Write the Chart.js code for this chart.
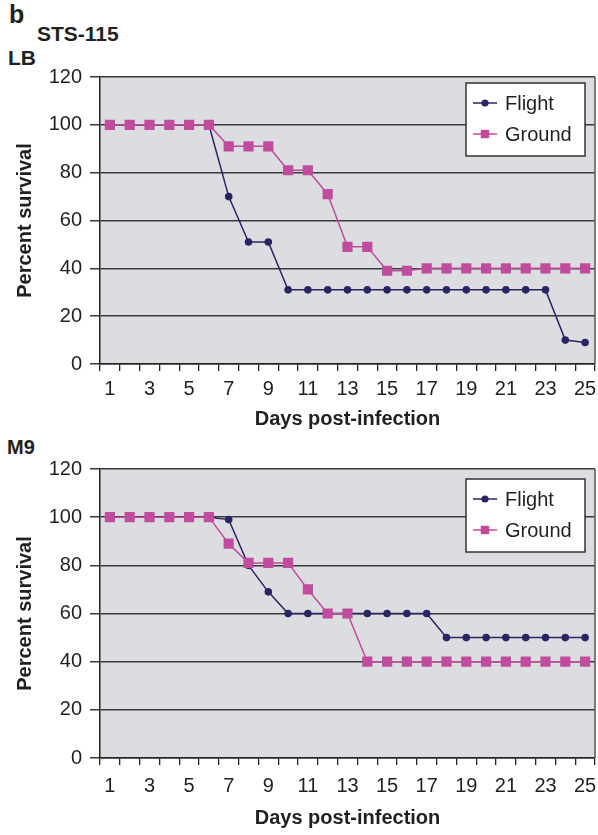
<!DOCTYPE html>
<html>
<head>
<meta charset="utf-8">
<script src="https://cdn.jsdelivr.net/npm/chart.js@4.4.1/dist/chart.umd.min.js"></script>
<style>
  body { margin: 0; background: #fff; font-family: "Liberation Sans", Arial, sans-serif; }
  .page { position: relative; width: 598px; height: 835px; overflow: hidden; }
  .lbl { position: absolute; font-weight: bold; color: #231f20; line-height: 1; }
  .box { position: absolute; left: 0; width: 598px; }
</style>
</head>
<body>
<div class="page">
  <div class="lbl" style="left:9px; top:2px; font-size:25px;">b</div>
  <div class="lbl" style="left:37px; top:23px; font-size:21px;">STS-115</div>
  <div class="lbl" style="left:8px; top:47px; font-size:21px;">LB</div>
  <div class="lbl" style="left:7px; top:437px; font-size:20px;">M9</div>
  <div class="box" style="top:62px; height:372px;"><canvas id="lbChart"></canvas></div>
  <div class="box" style="top:440px; height:395px;"><canvas id="m9Chart"></canvas></div>
</div>
<script>
// Days post-infection
const days = [1, 2, 3, 4, 5, 6, 7, 8, 9, 10, 11, 12, 13, 14, 15, 16, 17, 18, 19, 20, 21, 22, 23, 24, 25];
const yTicks = [0, 20, 40, 60, 80, 100, 120];

// LB medium (percent survival)
const lbFlight = [100, 100, 100, 100, 100, 100, 70, 51, 51, 31, 31, 31, 31, 31, 31, 31, 31, 31, 31, 31, 31, 31, 31, 10, 9];
const lbGround = [100, 100, 100, 100, 100, 100, 91, 91, 91, 81, 81, 71, 49, 49, 39, 39, 40, 40, 40, 40, 40, 40, 40, 40, 40];

// M9 medium (percent survival)
const m9Flight = [100, 100, 100, 100, 100, 100, 99, 80, 69, 60, 60, 60, 60, 60, 60, 60, 60, 50, 50, 50, 50, 50, 50, 50, 50];
const m9Ground = [100, 100, 100, 100, 100, 100, 89, 81, 81, 81, 70, 60, 60, 40, 40, 40, 40, 40, 40, 40, 40, 40, 40, 40, 40];

const flightColor = "#2b2463";
const groundColor = "#c04c9e";
const textColor = "#231f20";
const FONT = "'Liberation Sans', Arial, sans-serif";

// gray plot area + right border
const plotBg = {
  id: "plotBg",
  beforeDraw(chart) {
    const { ctx, chartArea: a } = chart;
    ctx.save();
    ctx.fillStyle = "#dcdde0";
    ctx.fillRect(a.left, a.top, a.right - a.left, a.bottom - a.top);
    ctx.restore();
  },
  afterDraw(chart) {
    const { ctx, chartArea: a } = chart;
    ctx.save();
    ctx.strokeStyle = "#555";
    ctx.lineWidth = 1.5;
    ctx.beginPath();
    ctx.moveTo(a.right, a.top);
    ctx.lineTo(a.right, a.bottom);
    ctx.stroke();
    ctx.restore();
  }
};

// legend box inside the plot, top right
const boxLegend = {
  id: "boxLegend",
  afterDraw(chart, args, opts) {
    const { ctx, chartArea: a } = chart;
    const w = 119, h = 73;
    const x = a.right - 10 - w;
    const y = a.top + opts.top;
    ctx.save();
    ctx.fillStyle = "#fff";
    ctx.fillRect(x, y, w, h);
    ctx.strokeStyle = "#333";
    ctx.lineWidth = 1.5;
    ctx.strokeRect(x, y, w, h);
    chart.data.datasets.forEach((ds, i) => {
      const cy = y + 20 + i * 31;
      ctx.strokeStyle = ds.borderColor;
      ctx.lineWidth = 1.5;
      ctx.beginPath();
      ctx.moveTo(x + 7, cy);
      ctx.lineTo(x + 31, cy);
      ctx.stroke();
      ctx.fillStyle = ds.backgroundColor;
      Chart.helpers.drawPoint(ctx, {
        pointStyle: ds.pointStyle,
        radius: ds.pointStyle === "rect" ? 6 : 3.6,
        rotation: 0,
        borderWidth: 0
      }, x + 19, cy);
      ctx.fillStyle = textColor;
      ctx.font = "20px " + FONT;
      ctx.textBaseline = "middle";
      ctx.textAlign = "left";
      ctx.fillText(ds.label, x + 39, cy + 1);
    });
    ctx.restore();
  }
};

function makeChart(id, flight, ground, padTop, axisH, tickPad, titlePad, legendTop) {
  return new Chart(document.getElementById(id), {
    type: "line",
    data: {
      labels: days,
      datasets: [
        {
          label: "Flight",
          data: flight,
          borderColor: flightColor,
          backgroundColor: flightColor,
          borderWidth: 1.5,
          pointStyle: "circle",
          pointRadius: 3.8,
          pointBorderWidth: 0,
          tension: 0,
          order: 1
        },
        {
          label: "Ground",
          data: ground,
          borderColor: groundColor,
          backgroundColor: groundColor,
          borderWidth: 1.5,
          pointStyle: "rect",
          pointRadius: 7.2,
          pointBorderWidth: 0,
          tension: 0,
          order: 0
        }
      ]
    },
    options: {
      responsive: true,
      maintainAspectRatio: false,
      animation: false,
      layout: { autoPadding: false, padding: { top: padTop, right: 3, left: 0, bottom: 0 } },
      plugins: {
        legend: { display: false },
        tooltip: { enabled: false },
        boxLegend: { top: legendTop }
      },
      scales: {
        x: {
          type: "category",
          offset: true,
          afterFit(s) {
            s.height = axisH;
            s.paddingLeft = 0;
            s.paddingRight = 0;
          },
          grid: {
            offset: true,
            drawOnChartArea: false,
            drawTicks: true,
            tickLength: 7,
            color: "#222",
            lineWidth: 1.3
          },
          border: { color: "#222", width: 1.5 },
          ticks: {
            autoSkip: false,
            maxRotation: 0,
            padding: tickPad,
            color: textColor,
            font: { family: FONT, size: 20 },
            callback: (v, i) => (i % 2 === 0 ? days[i] : "")
          },
          title: {
            display: true,
            text: "Days post-infection",
            color: textColor,
            font: { family: FONT, size: 20, weight: "bold" },
            padding: { top: 0, bottom: titlePad }
          }
        },
        y: {
          min: 0,
          max: 120,
          afterFit(s) {
            s.width = 100;
            s.paddingTop = 0;
            s.paddingBottom = 0;
          },
          afterBuildTicks(s) { s.ticks = yTicks.map(v => ({ value: v })); },
          grid: {
            color: "#3a3a3a",
            lineWidth: 1.5,
            tickLength: 10
          },
          border: { color: "#222", width: 1.5 },
          ticks: {
            padding: 8,
            color: textColor,
            font: { family: FONT, size: 20 }
          },
          title: {
            display: true,
            text: "Percent survival",
            color: textColor,
            font: { family: FONT, size: 20, weight: "bold" },
            padding: { top: 13, bottom: 0 }
          }
        }
      }
    },
    plugins: [plotBg, boxLegend]
  });
}

makeChart("lbChart", lbFlight, lbGround, 15, 70, 6, 3, 6);
makeChart("m9Chart", m9Flight, m9Ground, 29, 77, 9, 5, 10);
</script>
</body>
</html>
